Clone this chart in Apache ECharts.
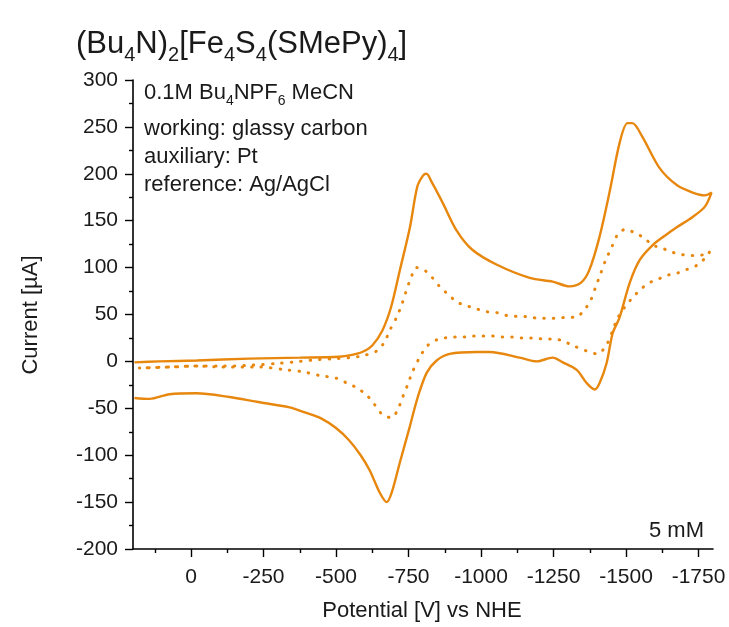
<!DOCTYPE html>
<html>
<head>
<meta charset="utf-8">
<script src="https://cdn.jsdelivr.net/npm/echarts@6/dist/echarts.min.js"></script>
<style>
  html, body { margin: 0; padding: 0; background: #fff; }
  #chart { width: 729px; height: 627px; }
</style>
</head>
<body>
<div id="chart"></div>
<script>
// Cyclic voltammogram, 5 mM: forward sweep toward -1800 mV, then back.
const potential5mM = [
  195, 110, -20, -200, -375, -510, -555, -590, -625, -660, -690, -720, -755, -780, -800, -812,
  -832, -868, -915, -970, -1055, -1168, -1247, -1305, -1345, -1373, -1408, -1443, -1478, -1505,
  -1522, -1557, -1616, -1675, -1730, -1772, -1795,
  -1772, -1730, -1675, -1634, -1592, -1547, -1513, -1478, -1454, -1433, -1409, -1392, -1364,
  -1330, -1282, -1247, -1192, -1133, -1030, -985, -892, -847, -813, -782, -754, -720, -692,
  -675, -651, -616, -585, -545, -500, -450, -398, -340, -226, -133, -19, 74, 143, 195
];
const current5mM = [
  -1, 0, 1, 3, 4, 5, 7, 10, 17, 33, 58, 97, 143, 186, 198, 200,
  190, 169, 140, 119, 103, 89, 85, 80, 84, 97, 132, 180, 233, 254,
  254, 239, 206, 188, 180, 177, 180,
  165, 154, 143, 134, 124, 108, 84, 47, 30, -2, -23, -30, -23,
  -9, -1, 4, 0, 4, 10, 10, 8, 1, -12, -38, -70, -108, -140,
  -150, -140, -116, -100, -84, -71, -61, -55, -49, -43, -38, -34, -35, -40, -39
];

// Second trace, drawn dotted.
const potentialDotted = [
  178, 74, -19, -109, -212, -305, -374, -443, -502, -547, -592, -640, -668, -685, -709, -726,
  -740, -757, -778, -806, -830, -857, -888, -919, -954, -985, -1019, -1054, -1088, -1126,
  -1161, -1195, -1230, -1261, -1295, -1326, -1354, -1378, -1395, -1413, -1430, -1451, -1471,
  -1499, -1530, -1561, -1592, -1623, -1654, -1689, -1723, -1754, -1789,
  -1772, -1748, -1710, -1675, -1644, -1613, -1582, -1551, -1520, -1496, -1471, -1454, -1437,
  -1420, -1402, -1365, -1316, -1282, -1247, -1213, -1178, -1144, -1109, -1075, -1040, -1006,
  -971, -937, -902, -875, -847, -816, -788, -764, -747, -730, -712, -692, -661, -633, -606,
  -571, -537, -502, -443, -385, -329, -236, -109, -19, 74, 178
];
const currentDotted = [
  -7, -6, -5, -5, -4, -2, 0, 2, 3, 4, 6, 11, 21, 33, 47, 60,
  73, 88, 100, 97, 90, 80, 71, 63, 59, 56, 53, 52, 49, 48,
  48, 46, 46, 46, 47, 47, 54, 65, 79, 94, 108, 122, 135,
  141, 137, 132, 124, 121, 117, 114, 113, 113, 117,
  110, 103, 98, 94, 92, 88, 84, 77, 67, 58, 46, 33, 20,
  12, 8, 11, 17, 22, 24, 24, 25, 25, 26, 26, 27, 27,
  27, 26, 26, 25, 23, 17, 4, -11, -25, -38, -52, -60, -57, -46, -36,
  -28, -23, -18, -15, -11, -9, -6, -6, -5, -6, -7
];

const xMajorTicks = [0, -250, -500, -750, -1000, -1250, -1500, -1750];
const xMinorTicks = [125, -125, -375, -625, -875, -1125, -1375, -1625];

const FONT = "'Liberation Sans', Arial, sans-serif";
const ORANGE = '#E8870E';
const INK = '#1a1a1a';

const pairs = (xs, ys) => xs.map((x, i) => [x, ys[i]]);

// Text run with sub-scripted pieces, laid out left to right on a baseline.
const measureCtx = document.createElement('canvas').getContext('2d');
function textRun(x, baseline, parts) {
  const out = [];
  let cx = x;
  parts.forEach(p => {
    measureCtx.font = p.size + "px 'Liberation Sans'";
    const w = measureCtx.measureText(p.text).width;
    out.push({
      type: 'text', x: cx, y: baseline + (p.dy || 0) - 0.35 * p.size, silent: true,
      style: { text: p.text, fontSize: p.size, fontFamily: FONT, fill: INK,
               align: 'left', verticalAlign: 'middle' }
    });
    cx += w;
  });
  return out;
}

const T = 31, TS = 20, TD = 7.5;   // title sizes and subscript drop
const A = 22, AS = 14, AD = 6;     // annotation sizes

const titleParts = [
  { text: '(Bu', size: T }, { text: '4', size: TS, dy: TD },
  { text: 'N)', size: T }, { text: '2', size: TS, dy: TD },
  { text: '[Fe', size: T }, { text: '4', size: TS, dy: TD },
  { text: 'S', size: T }, { text: '4', size: TS, dy: TD },
  { text: '(SMePy)', size: T }, { text: '4', size: TS, dy: TD },
  { text: ']', size: T }
];
const electrolyteParts = [
  { text: '0.1M Bu', size: A }, { text: '4', size: AS, dy: AD },
  { text: 'NPF', size: A }, { text: '6', size: AS, dy: AD },
  { text: ' MeCN', size: A }
];

const gridBox = { left: 133, right: 16, top: 80, bottom: 78, outerBoundsMode: 'none', containLabel: false };

const chart = echarts.init(document.getElementById('chart'), null, { renderer: 'canvas' });

chart.setOption({
  animation: false,
  backgroundColor: '#fff',
  grid: [Object.assign({}, gridBox), Object.assign({}, gridBox)],
  xAxis: [
    {
      type: 'value', gridIndex: 0, min: -1800, max: 200, inverse: true,
      axisLine: { show: true, onZero: false, lineStyle: { color: '#000', width: 1.6 } },
      axisTick: { show: true, inside: false, length: 8, customValues: xMajorTicks,
                  lineStyle: { color: '#000', width: 1.4 } },
      axisLabel: { show: true, customValues: xMajorTicks, margin: 18, fontSize: 21,
                   fontFamily: FONT, color: INK, hideOverlap: false,
                   formatter: v => String(v) },
      splitLine: { show: false }
    },
    {
      type: 'value', gridIndex: 1, min: -1800, max: 200, inverse: true,
      axisLine: { show: false, onZero: false },
      axisTick: { show: true, inside: false, length: 4, customValues: xMinorTicks,
                  lineStyle: { color: '#000', width: 1.4 } },
      axisLabel: { show: false },
      splitLine: { show: false }
    }
  ],
  yAxis: [
    {
      type: 'value', gridIndex: 0, min: -200, max: 300, interval: 50,
      axisLine: { show: true, onZero: false, lineStyle: { color: '#000', width: 1.6 } },
      axisTick: { show: true, inside: false, length: 8, lineStyle: { color: '#000', width: 1.4 } },
      minorTick: { show: true, splitNumber: 2, length: 4, lineStyle: { color: '#000', width: 1.4 } },
      axisLabel: { margin: 15, fontSize: 21, fontFamily: FONT, color: INK,
                   formatter: v => String(v) },
      splitLine: { show: false }
    },
    {
      type: 'value', gridIndex: 1, min: -200, max: 300, show: false
    }
  ],
  series: [
    {
      name: '5 mM', type: 'line', xAxisIndex: 0, yAxisIndex: 0,
      data: pairs(potential5mM, current5mM),
      showSymbol: false, smooth: 0.3,
      lineStyle: { color: ORANGE, width: 2.4 }
    },
    {
      name: 'dotted', type: 'line', xAxisIndex: 0, yAxisIndex: 0,
      data: pairs(potentialDotted, currentDotted),
      showSymbol: false, smooth: 0.3,
      lineStyle: { color: ORANGE, width: 3, type: [0.5, 9], cap: 'round' }
    }
  ],
  graphic: [
    ...textRun(76, 55, titleParts),
    ...textRun(144, 100.5, electrolyteParts),
    ...textRun(144, 136.5, [{ text: 'working: glassy carbon', size: A }]),
    ...textRun(144, 164.5, [{ text: 'auxiliary: Pt', size: A }]),
    ...textRun(144, 193, [{ text: 'reference: Ag/AgCl', size: A }]),
    { type: 'text', x: 704, y: 539 - 0.35 * A, silent: true,
      style: { text: '5 mM', fontSize: A, fontFamily: FONT, fill: INK, align: 'right', verticalAlign: 'middle' } },
    { type: 'text', x: 422, y: 619 - 0.35 * A, silent: true,
      style: { text: 'Potential [V] vs NHE', fontSize: A, fontFamily: FONT, fill: INK, align: 'center', verticalAlign: 'middle' } },
    { type: 'text', x: 31, y: 315, rotation: Math.PI / 2, silent: true,
      style: { text: 'Current [µA]', fontSize: A, fontFamily: FONT, fill: INK, align: 'center', verticalAlign: 'middle' } }
  ]
});
</script>
</body>
</html>
